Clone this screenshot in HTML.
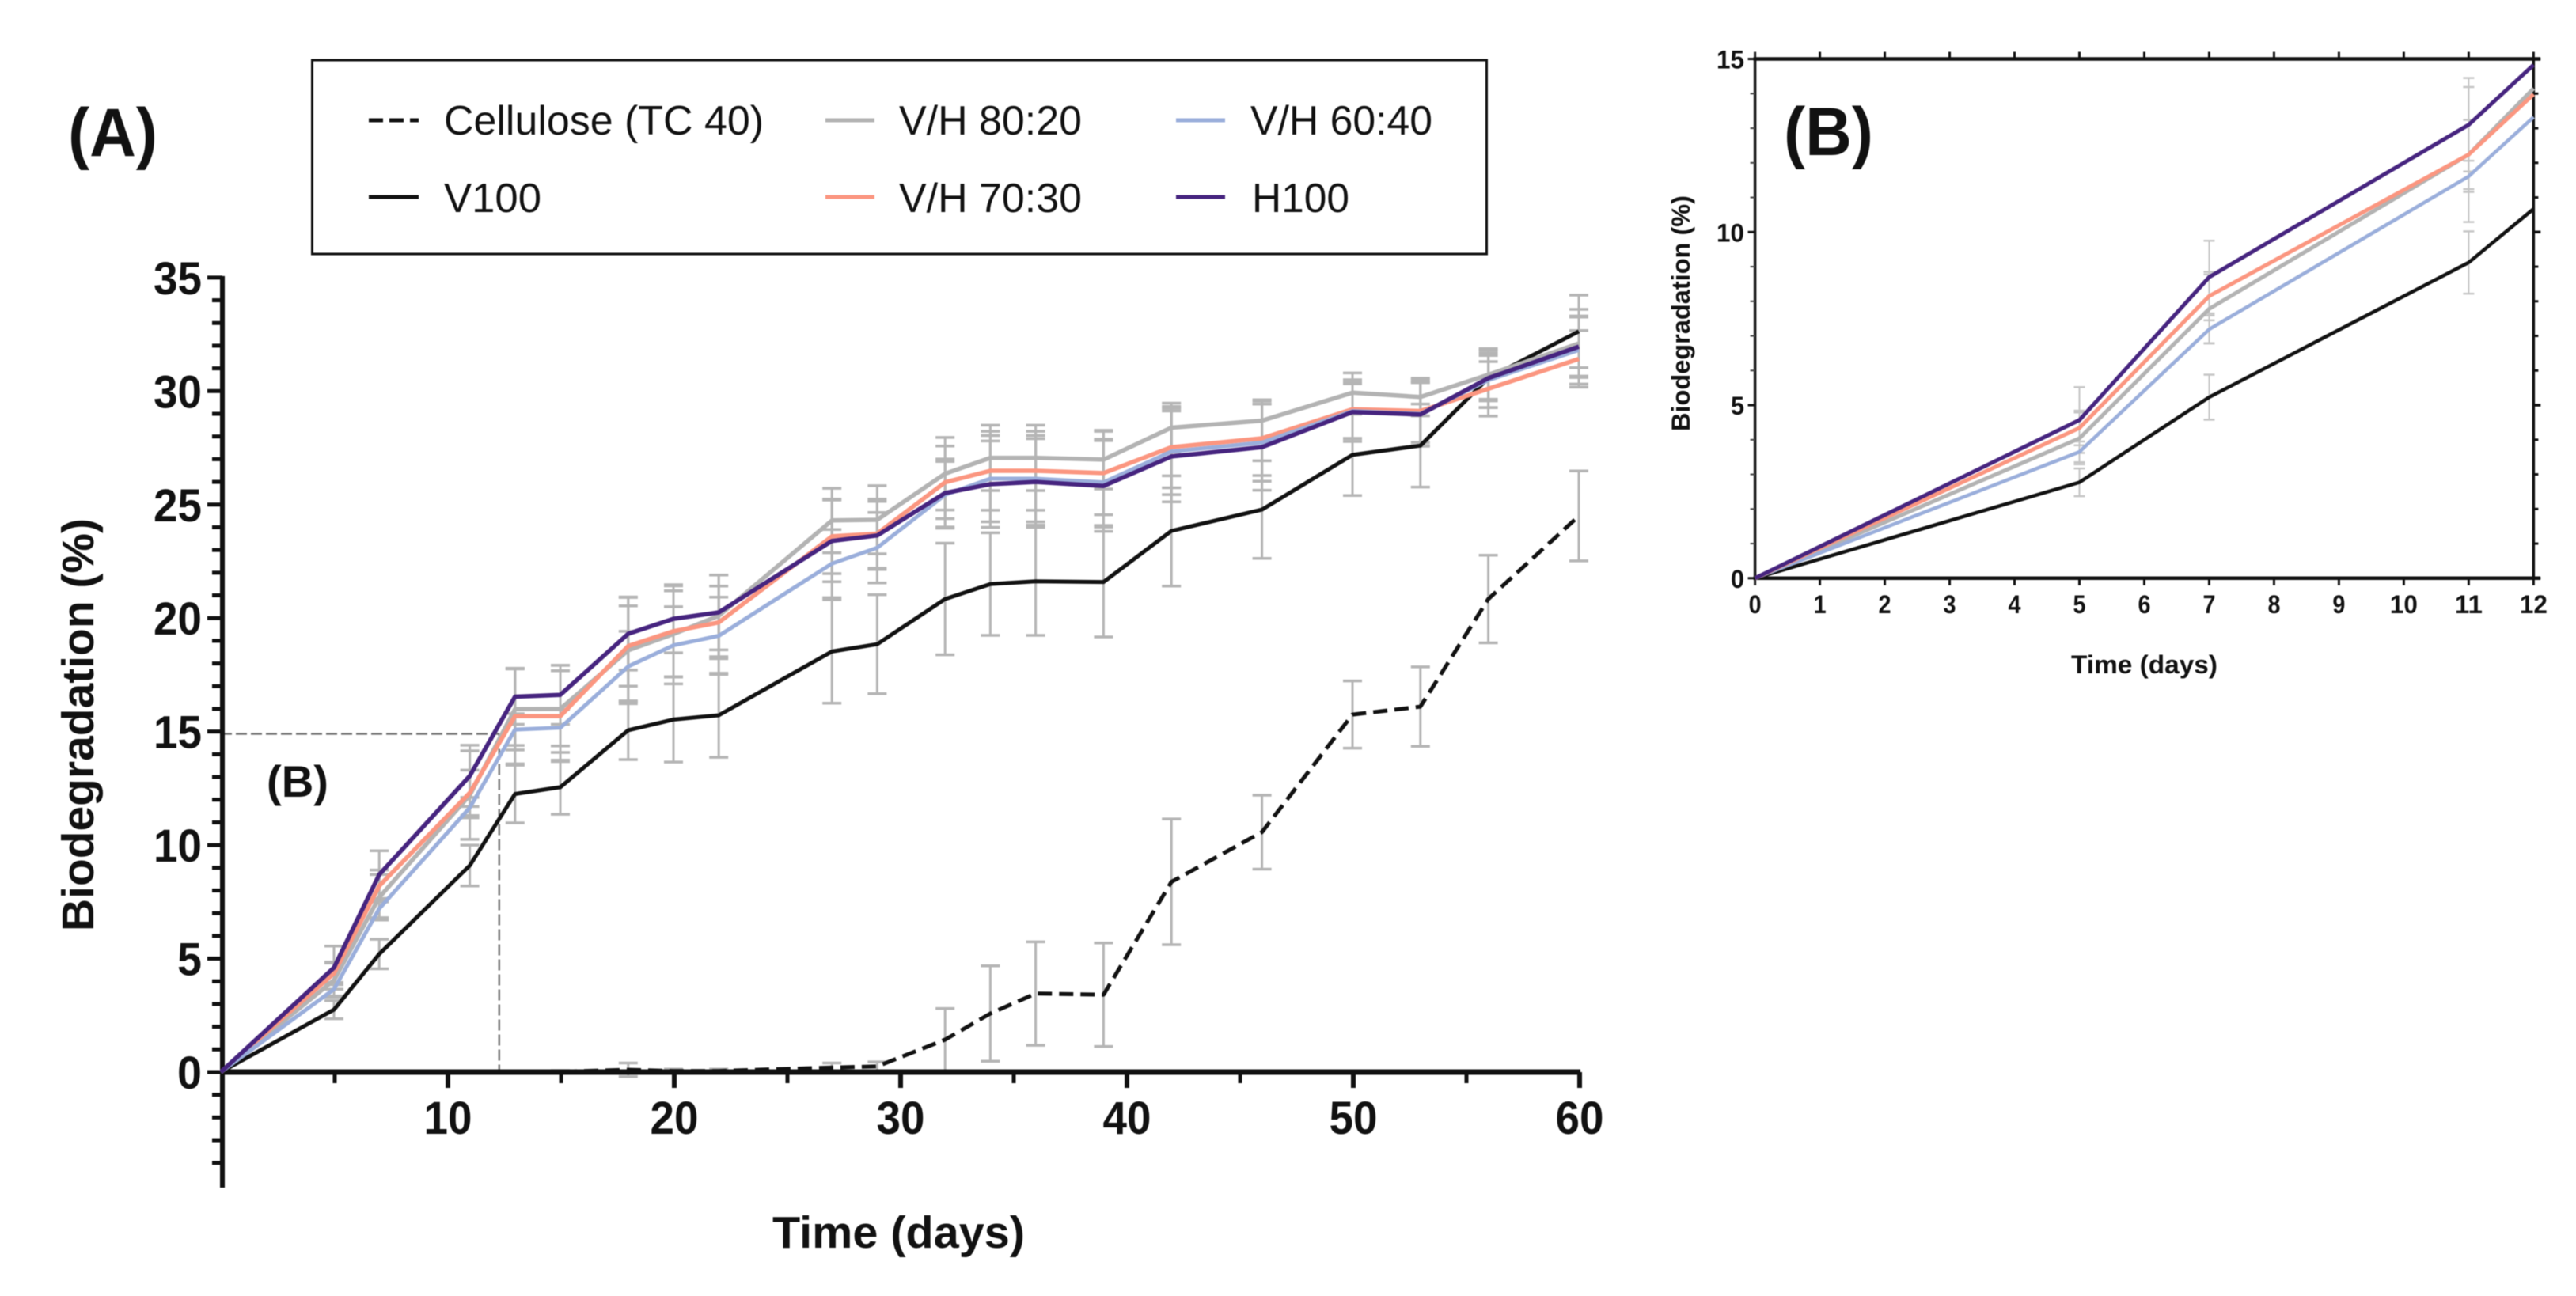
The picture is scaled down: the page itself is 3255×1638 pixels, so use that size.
<!DOCTYPE html>
<html lang="en">
<head>
<meta charset="utf-8">
<title>Biodegradation over time</title>
<style>
html,body{margin:0;padding:0;background:#fff;width:3255px;height:1638px;overflow:hidden}
svg{display:block;filter:blur(.6px)}
text{font-family:"Liberation Sans",sans-serif;fill:#111}
.b{font-weight:bold}
</style>
</head>
<body>
<svg id="fig" xmlns="http://www.w3.org/2000/svg" width="3255" height="1638" viewBox="0 0 3255 1638">
  <rect x="0" y="0" width="3255" height="1638" fill="#fff"/>

  <text class="b" x="86" y="197" font-size="86" textLength="113" lengthAdjust="spacingAndGlyphs">(A)</text>

  <g>
    <rect x="394.5" y="76" width="1484" height="245" fill="#fff" stroke="#111" stroke-width="3"/>
    <g>
      <line x1="466" x2="529" y1="152" y2="152" stroke="#111" stroke-width="5" stroke-dasharray="18 8"/>
      <text x="561" y="170" font-size="52" textLength="404" lengthAdjust="spacingAndGlyphs">Cellulose (TC 40)</text>
    </g>
    <g>
      <line x1="466" x2="529" y1="249" y2="249" stroke="#111" stroke-width="5"/>
      <text x="561" y="268" font-size="52" textLength="123" lengthAdjust="spacingAndGlyphs">V100</text>
    </g>
    <g>
      <line x1="1043" x2="1105" y1="152" y2="152" stroke="#b3b3b3" stroke-width="5"/>
      <text x="1136" y="170" font-size="52" textLength="231" lengthAdjust="spacingAndGlyphs">V/H 80:20</text>
    </g>
    <g>
      <line x1="1043" x2="1105" y1="249" y2="249" stroke="#fb9680" stroke-width="5"/>
      <text x="1136" y="268" font-size="52" textLength="231" lengthAdjust="spacingAndGlyphs">V/H 70:30</text>
    </g>
    <g>
      <line x1="1486" x2="1548" y1="152" y2="152" stroke="#9aaedb" stroke-width="5"/>
      <text x="1580" y="170" font-size="52" textLength="230" lengthAdjust="spacingAndGlyphs">V/H 60:40</text>
    </g>
    <g>
      <line x1="1486" x2="1548" y1="249" y2="249" stroke="#46247f" stroke-width="5"/>
      <text x="1582" y="268" font-size="52" textLength="123" lengthAdjust="spacingAndGlyphs">H100</text>
    </g>
  </g>

  <g id="a-errors"></g>
  <g id="a-guides"></g>
  <g id="a-axes"></g>
  <g id="a-series"></g>

  <text class="b" transform="translate(118,1177) rotate(-90)" x="0" y="0" font-size="57" textLength="522" lengthAdjust="spacingAndGlyphs">Biodegradation  (%)</text>
  <text class="b" x="976" y="1577" font-size="57" textLength="319" lengthAdjust="spacingAndGlyphs">Time (days)</text>
  <text class="b" x="337" y="1007" font-size="56" textLength="78" lengthAdjust="spacingAndGlyphs">(B)</text>

  <g id="b-errors"></g>
  <g id="b-axes"></g>
  <g id="b-series"></g>

  <text class="b" x="2254" y="196" font-size="86" textLength="113" lengthAdjust="spacingAndGlyphs">(B)</text>
  <text class="b" transform="translate(2135,545) rotate(-90)" x="0" y="0" font-size="32" textLength="298" lengthAdjust="spacingAndGlyphs">Biodegradation (%)</text>
  <text class="b" x="2617" y="851" font-size="32" textLength="185" lengthAdjust="spacingAndGlyphs">Time (days)</text>
</svg>

<script>
// ---- Panel A data ----
const daysA = [0,5,7,11,13,15,18,20,22,27,29,32,34,36,39,42,46,50,53,56,60];
const celluloseA = [0,0,0,0,0,0.02,0.1,0.05,0.05,0.2,0.25,1.43,2.58,3.46,3.41,8.38,10.57,15.75,16.1,20.84,24.5];
const v100A = [0,2.75,5.2,9.1,12.25,12.55,15.06,15.53,15.72,18.53,18.85,20.84,21.5,21.62,21.59,23.84,24.78,27.19,27.6,30.57,32.63];
const vh8020A = [0,4.05,7.7,12.2,15.99,16,18.58,19.3,20.1,24.3,24.33,26.36,27.06,27.06,26.98,28.39,28.7,29.93,29.74,30.72,32.1];
const vh7030A = [0,4.35,8.2,12.3,15.68,15.68,18.77,19.42,19.81,23.6,23.72,25.98,26.49,26.49,26.39,27.53,27.92,29.2,29.12,30.1,31.42];
const vh6040A = [0,3.65,7.2,11.65,15.09,15.17,17.87,18.8,19.22,22.4,23.1,25.43,26.14,26.14,25.98,27.34,27.73,29.12,29,30.48,31.81];
const h100A = [0,4.6,8.7,13.05,16.54,16.62,19.31,19.97,20.25,23.4,23.64,25.51,25.9,26,25.82,27.12,27.53,29.08,28.97,30.57,31.96];

const errCelluloseA = [0,0,0,0,0,0.05,0.3,0.08,0.08,0.2,0.2,1.37,2.1,2.28,2.28,2.77,1.63,1.48,1.75,1.93,1.98];
const errV100A = [0,0.4,0.65,0.9,1.27,1.19,1.29,1.87,1.85,2.28,2.18,2.46,2.26,2.38,2.42,2.43,2.15,1.79,1.83,1.3,1.6];
const errVh8020A = [0,0.75,1,1.95,1.8,1.92,2.35,1.9,1.8,1.42,1.5,1.6,1.44,1.44,1.29,1.08,0.92,0.87,0.83,1.08,1.5];
const errVh7030A = [0,0.5,0.7,1,2.1,2,1.77,2,1.6,1.64,1.52,1.6,1.74,1.74,1.84,1.79,1.64,1.3,1.38,1.2,1.25];
const errVh6040A = [0,0.3,0.4,0.45,0.7,0.8,1.55,1.7,1.7,1.5,1.55,1.47,1.9,1.9,1.9,1.9,1.7,1.2,1.4,1.2,1.5];
const errH100A = [0,0.95,1.05,1.35,1.22,1.3,1.6,1.5,1.65,1.8,1.5,1.5,1.9,1.9,2,2,1.9,1.3,1.4,1,1.3];

const yTicksA = [0,5,10,15,20,25,30,35];
const yMinorTicksA = [-4,-3,-2,-1,1,2,3,4,6,7,8,9,11,12,13,14,16,17,18,19,21,22,23,24,26,27,28,29,31,32,33,34];
const xTicksA = [10,20,30,40,50,60];
const xMinorTicksA = [5,15,25,35,45,55];
const zoomLimitDay = [12.3];
const zoomLimitValue = [14.9];

// ---- Panel B data ----
const daysB = [0,5,7,11,12];
const v100B = [0,2.77,5.23,9.12,10.67];
const vh8020B = [0,4.04,7.78,12.24,14.15];
const vh7030B = [0,4.34,8.15,12.24,13.98];
const vh6040B = [0,3.65,7.19,11.61,13.32];
const h100B = [0,4.57,8.7,13.1,14.83];

const errV100B = [0,0.4,0.65,0.9,0];
const errVh8020B = [0,0.75,1,1.95,0];
const errVh7030B = [0,0.5,0.7,1,0];
const errVh6040B = [0,0.3,0.4,0.45,0];
const errH100B = [0,0.95,1.05,1.35,0];

const xTicksB = [0,1,2,3,4,5,6,7,8,9,10,11,12];
const yTicksB = [0,5,10,15];
const yMinorTicksB = [1,2,3,4,6,7,8,9,11,12,13,14];

// ---- Axis functions ----
function xA(v){ return 279 + 28.6 * v; }
function yA(v){ return 1355 - 28.69 * v; }
function xB(v){ return 2217.6 + 81.98 * v; }
function yB(v){ return 730.8 - 43.75 * v; }

const NS = 'http://www.w3.org/2000/svg';
function make(tag, parent){
  const el = document.createElementNS(NS, tag);
  parent.appendChild(el);
  return el;
}
function seg(parent, x1, y1, x2, y2, color, width){
  const el = make('line', parent);
  el.setAttribute('x1', x1);
  el.setAttribute('y1', y1);
  el.setAttribute('x2', x2);
  el.setAttribute('y2', y2);
  el.setAttribute('stroke', color);
  el.setAttribute('stroke-width', width);
  return el;
}
function label(parent, x, y, str, size, anchor, len){
  const el = make('text', parent);
  el.setAttribute('class', 'b');
  el.setAttribute('x', x);
  el.setAttribute('y', y);
  el.setAttribute('font-size', size);
  el.setAttribute('text-anchor', anchor);
  if (len) {
    el.setAttribute('textLength', len);
    el.setAttribute('lengthAdjust', 'spacingAndGlyphs');
  }
  el.textContent = str;
  return el;
}
function drawErrors(parent, days, vals, errs, fx, fy, color, width, cap){
  days.forEach(function(d, i){
    if (errs[i] <= 0) return;
    const g = make('g', parent);
    
    
    const x = fx(d);
    const hi = fy(vals[i] + errs[i]);
    const lo = fy(vals[i] - errs[i]);
    seg(g, x, hi, x, lo, color, width);
    seg(g, x - cap, hi, x + cap, hi, color, width + 0.5);
    seg(g, x - cap, lo, x + cap, lo, color, width + 0.5);
  });
}
function drawLine(parent, days, vals, fx, fy, color, width, dash){
  const p = make('path', parent);
  let d = '';
  days.forEach(function(day, i){
    d += (i ? 'L' : 'M') + fx(day).toFixed(1) + ' ' + fy(vals[i]).toFixed(1);
  });
  p.setAttribute('d', d);
  p.setAttribute('fill', 'none');
  p.setAttribute('stroke', color);
  p.setAttribute('stroke-width', width);
  p.setAttribute('stroke-linejoin', 'round');
  if (dash) p.setAttribute('stroke-dasharray', dash);
  
  
  return p;
}

const INK = '#111';

// ---- Panel A ----
const aErr = document.getElementById('a-errors');
const aGuides = document.getElementById('a-guides');
const aAxes = document.getElementById('a-axes');
const aSeries = document.getElementById('a-series');
const BAR = '#b5b5b5';

drawErrors(aErr, daysA, h100A, errH100A, xA, yA, BAR, 3, 12);
drawErrors(aErr, daysA, vh6040A, errVh6040A, xA, yA, BAR, 3, 12);
drawErrors(aErr, daysA, vh7030A, errVh7030A, xA, yA, BAR, 3, 12);
drawErrors(aErr, daysA, vh8020A, errVh8020A, xA, yA, BAR, 3, 12);
drawErrors(aErr, daysA, v100A, errV100A, xA, yA, BAR, 3, 12);
drawErrors(aErr, daysA, celluloseA, errCelluloseA, xA, yA, BAR, 3, 12);

const gh = seg(aGuides, xA(0), yA(zoomLimitValue[0]), xA(zoomLimitDay[0]), yA(zoomLimitValue[0]), '#777', 2.5);
gh.setAttribute('stroke-dasharray', '14 5');


const gv = seg(aGuides, xA(zoomLimitDay[0]), yA(zoomLimitValue[0]), xA(zoomLimitDay[0]), yA(0), '#777', 2.5);
gv.setAttribute('stroke-dasharray', '14 5');



const yAxisA = seg(aAxes, 281, yA(35) - 2, 281, 1501, INK, 6);


const xAxisA = seg(aAxes, 278, yA(0), xA(60) + 2, yA(0), INK, 7);



yTicksA.forEach(function(v){
  const t = seg(aAxes, 262, yA(v), 281, yA(v), INK, 5);
  
  
  const l = label(aAxes, 255, yA(v) + 21, String(v), 58, 'end', v < 10 ? 31 : 61);
  
  
});
yMinorTicksA.forEach(function(v){
  const t = seg(aAxes, 268, yA(v), 281, yA(v), INK, 5);
  
  
});
xTicksA.forEach(function(v){
  const t = seg(aAxes, xA(v) + 1, yA(0), xA(v) + 1, 1375, INK, 6);
  
  
  const l = label(aAxes, xA(v) + 1, 1433, String(v), 58, 'middle', 61);
  
  
});
xMinorTicksA.forEach(function(v){
  const t = seg(aAxes, xA(v) + 1, yA(0), xA(v) + 1, 1369, INK, 5);
  
  
});

drawLine(aSeries, daysA, celluloseA, xA, yA, INK, 5, '18 9');
drawLine(aSeries, daysA, v100A, xA, yA, INK, 5);
drawLine(aSeries, daysA, vh8020A, xA, yA, '#b3b3b3', 5.5);
drawLine(aSeries, daysA, vh7030A, xA, yA, '#fb9680', 5.5);
drawLine(aSeries, daysA, vh6040A, xA, yA, '#9aaedb', 5);
drawLine(aSeries, daysA, h100A, xA, yA, '#46247f', 5.5);

// ---- Panel B ----
const bErr = document.getElementById('b-errors');
const bAxes = document.getElementById('b-axes');
const bSeries = document.getElementById('b-series');
const BARB = '#c6c6c6';

drawErrors(bErr, daysB, h100B, errH100B, xB, yB, BARB, 2, 7);
drawErrors(bErr, daysB, vh6040B, errVh6040B, xB, yB, BARB, 2, 7);
drawErrors(bErr, daysB, vh7030B, errVh7030B, xB, yB, BARB, 2, 7);
drawErrors(bErr, daysB, vh8020B, errVh8020B, xB, yB, BARB, 2, 7);
drawErrors(bErr, daysB, v100B, errV100B, xB, yB, BARB, 2, 7);

const leftB = seg(bAxes, xB(0), yB(15), xB(0), yB(0), INK, 3.5);


const rightB = seg(bAxes, xB(12), yB(15), xB(12), yB(0), INK, 3.5);


const topB = seg(bAxes, xB(0) - 2, yB(15), 3210, yB(15), INK, 4.5);


const bottomB = seg(bAxes, xB(0) - 2, yB(0), 3210, yB(0), INK, 4.5);



xTicksB.forEach(function(v){
  const t1 = seg(bAxes, xB(v), yB(15) - 9, xB(v), yB(15), INK, 3);
  
  
  const t2 = seg(bAxes, xB(v), yB(0), xB(v), yB(0) + 9, INK, 3);
  
  
  const l = label(bAxes, xB(v), 775, String(v), 32, 'middle', v < 10 ? 16 : 35);
  
  
});
yTicksB.forEach(function(v){
  const t1 = seg(bAxes, xB(0) - 9, yB(v), xB(0), yB(v), INK, 3);
  
  
  const t2 = seg(bAxes, xB(12), yB(v), xB(12) + 9, yB(v), INK, 3.5);
  
  
  const l = label(bAxes, 2204, yB(v) + 12, String(v), 32, 'end', v < 10 ? 17 : 35);
  
  
});
yMinorTicksB.forEach(function(v){
  const t1 = seg(bAxes, xB(0) - 6, yB(v), xB(0), yB(v), '#444', 2);
  
  
  const t2 = seg(bAxes, xB(12), yB(v), xB(12) + 6, yB(v), INK, 3);
  
  
});

drawLine(bSeries, daysB, v100B, xB, yB, INK, 4.5);
drawLine(bSeries, daysB, vh8020B, xB, yB, '#b3b3b3', 5);
drawLine(bSeries, daysB, vh6040B, xB, yB, '#9aaedb', 4.5);
drawLine(bSeries, daysB, vh7030B, xB, yB, '#fb9680', 5);
drawLine(bSeries, daysB, h100B, xB, yB, '#46247f', 5);
</script>
</body>
</html>
